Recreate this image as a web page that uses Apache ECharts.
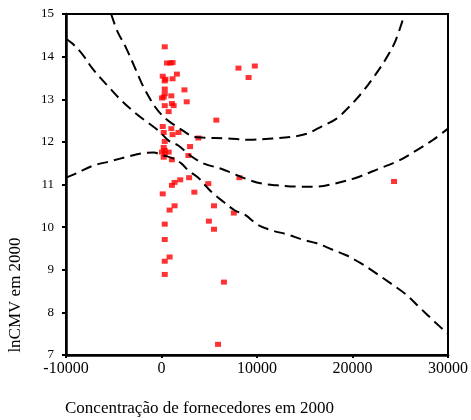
<!DOCTYPE html>
<html>
<head>
<meta charset="utf-8">
<script src="https://cdn.jsdelivr.net/npm/echarts@6/dist/echarts.min.js"></script>
<style>
  html, body { margin: 0; padding: 0; background: #fff; }
  #chart { width: 471px; height: 420px; }
</style>
</head>
<body>
<div id="chart"></div>
<script>
// observed points: supplier concentration vs lnCMV
const pointX = [340, 570, 930, 1160, 8060, 9770, 9120, 130, 1160, 1610, 410, 340,
  2400, 340, 340, 230, 1030, 50, 1090, 2640, 340, 1270, 750, 5740, 130, 1030,
  230, 1780, 1160, 3850, 340, 2990, 230, 340, 50, 750, 340, 230, 1090, 2820,
  8160, 2890, 1960, 1370, 4900, 1090, 130, 3440, 1370, 850, 5500, 7570, 4960,
  5500, 340, 340, 850, 340, 340, 6540, 5920, 24350];
const pointY = [14.23, 13.85, 13.85, 13.86, 13.73, 13.78, 13.51, 13.54, 13.48, 13.59, 13.47, 13.43,
  13.22, 13.24, 13.13, 13.05, 13.08, 13.03, 12.90, 12.94, 12.85, 12.85, 12.71, 12.51, 12.36, 12.31,
  12.22, 12.22, 12.17, 12.09, 12.01, 11.89, 11.87, 11.80, 11.76, 11.76, 11.72, 11.64, 11.58, 11.68,
  11.16, 11.16, 11.11, 11.05, 11.02, 10.98, 10.78, 10.82, 10.50, 10.40, 10.50, 10.33, 10.14,
  9.95, 10.07, 9.71, 9.30, 9.20, 8.89, 8.71, 7.25, 11.07];

// dashed curve A (starts 14.4 on the left, ends 12.3 on the right)
const curveAX = [-10000, -9300, -8300, -7200, -5450, -4200, -2650, -1300, -300, 750, 1800, 3000,
  4450, 6250, 7450, 9000, 10550, 12100, 14200, 16250, 18100, 20400, 22750, 24850, 26700, 28450, 30000];
const curveAY = [14.42, 14.30, 14.06, 13.71, 13.27, 12.97, 12.66, 12.43, 12.26, 12.03, 11.91, 11.68,
  11.49, 11.37, 11.26, 11.12, 11.02, 10.98, 10.95, 10.95, 11.02, 11.16, 11.37, 11.56, 11.80, 12.05, 12.31];

// dashed curve B (starts 11.15, peaks near 0, falls to 7.5)
const curveBX = [-10000, -8750, -7200, -5450, -3400, -2050, -800, -80, 1250, 2100, 2800, 3850,
  4700, 5400, 6450, 7700, 8800, 10050, 11600, 13150, 14700, 16250, 17800, 19350, 20900, 22450,
  24000, 25550, 27100, 28650, 30000];
const curveBY = [11.16, 11.28, 11.44, 11.54, 11.66, 11.73, 11.75, 11.70, 11.61, 11.49, 11.33, 11.16,
  10.95, 10.79, 10.60, 10.39, 10.28, 10.06, 9.92, 9.83, 9.71, 9.62, 9.48, 9.34, 9.15, 8.92,
  8.68, 8.43, 8.10, 7.77, 7.49];

// dashed curve C (enters from the top, flat near 12.05, leaves at the top)
const curveCX = [-5270, -4630, -3700, -2650, -1850, -600, 450, 1450, 2400, 3350, 4350, 6950,
  9200, 11600, 13650, 15200, 16750, 18300, 19550, 20900, 22250, 23500, 24500, 25450];
const curveCY = [15.0, 14.60, 14.20, 13.67, 13.27, 12.80, 12.54, 12.38, 12.24, 12.12, 12.10, 12.08,
  12.05, 12.08, 12.12, 12.19, 12.36, 12.54, 12.80, 13.13, 13.53, 13.95, 14.37, 15.0];

const xTicks = { min: -10000, max: 30000, interval: 10000 };
const yTicks = { min: 7, max: 15, interval: 1 };

const serif = "'Liberation Serif', 'Times New Roman', serif";

function pairs(xs, ys) {
  return xs.map((x, i) => [x, ys[i]]);
}

function dashedCurve(xs, ys) {
  return {
    type: "line",
    data: pairs(xs, ys),
    smooth: 0.35,
    symbol: "none",
    silent: true,
    z: 3,
    lineStyle: { color: "#000", width: 2, type: [11, 6] },
  };
}

const chart = echarts.init(document.getElementById("chart"));
chart.setOption({
  animation: false,
  backgroundColor: "#fff",
  grid: {
    left: 66, right: 18, top: 14, bottom: 65,
    show: true, borderColor: "#000", borderWidth: 2, backgroundColor: "transparent",
  },
  xAxis: {
    type: "value",
    min: xTicks.min, max: xTicks.max, interval: xTicks.interval,
    splitLine: { show: false },
    axisLine: { onZero: false, lineStyle: { color: "#000", width: 2.5 } },
    axisTick: { length: 3, lineStyle: { color: "#000", width: 2 } },
    axisLabel: {
      color: "#000", fontFamily: serif, fontSize: 16, margin: 6,
      formatter: (v) => String(v),
    },
  },
  yAxis: {
    type: "value",
    min: yTicks.min, max: yTicks.max, interval: yTicks.interval,
    splitLine: { show: false },
    axisLine: { show: true, onZero: false, lineStyle: { color: "#000", width: 2.5 } },
    axisTick: { show: true, length: 4, lineStyle: { color: "#000", width: 2 } },
    axisLabel: { color: "#000", fontFamily: serif, fontSize: 13, margin: 12 },
  },
  graphic: [
    {
      type: "text",
      x: 16, y: 295,
      rotation: Math.PI / 2,
      style: {
        text: "lnCMV em 2000",
        fill: "#000",
        font: "17px " + serif,
        textAlign: "center",
        textVerticalAlign: "middle",
      },
    },
    {
      type: "text",
      left: 65, top: 400,
      style: {
        text: "Concentração de fornecedores em 2000",
        fill: "#000",
        font: "17px " + serif,
      },
    },
  ],
  series: [
    {
      type: "scatter",
      data: pairs(pointX, pointY),
      symbol: "rect",
      symbolSize: [6, 5],
      itemStyle: { color: "#ff0000" },
      z: 2,
    },
    dashedCurve(curveAX, curveAY),
    dashedCurve(curveBX, curveBY),
    dashedCurve(curveCX, curveCY),
  ],
});
</script>
</body>
</html>
